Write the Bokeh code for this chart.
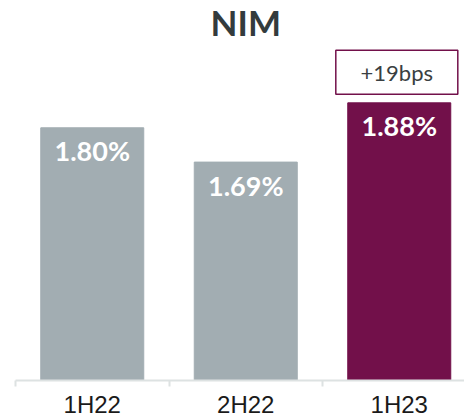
from bokeh.plotting import figure
from bokeh.models import Range1d, LinearAxis, FixedTicker, ColumnDataSource
from bokeh.core.properties import value
from bokeh.embed import file_html
from bokeh.resources import INLINE

# data
categories = ["1H22", "2H22", "1H23"]
nim_values = [1.80, 1.69, 1.88]
value_labels = ["1.80%", "1.69%", "1.88%"]
bar_colors = ["#a2adb2", "#a2adb2", "#72104a"]
change_label = "+19bps"
chart_title = "NIM"

Y_START = 0.99
Y_END = 2.208

xs = [i + 0.5 for i in range(len(categories))]
src = ColumnDataSource(dict(x=xs, top=nim_values, lab=value_labels, color=bar_colors))

p = figure(width=464, height=420, output_backend="svg", toolbar_location=None,
           x_range=Range1d(0, 2.925), y_range=Range1d(Y_START, Y_END),
           min_border_left=15, min_border_right=0, min_border_top=0, min_border_bottom=40)
p.xaxis.visible = False
p.yaxis.visible = False
p.xgrid.visible = False
p.ygrid.visible = False
p.outline_line_color = None
p.background_fill_color = "white"
p.border_fill_color = "white"

p.vbar(x="x", top="top", bottom=Y_START, width=0.671, color="color", source=src)

p.text(x="x", y="top", text="lab", source=src, text_align="center", text_baseline="middle",
       y_offset=23, text_color="white", text_font=value("Lato"), text_font_style="bold",
       text_font_size="27px")

last = len(categories) - 1
box_y = nim_values[last] + 0.098
p.rect(x=[xs[last] - 0.016], y=[box_y], width=122, height=44, width_units="screen",
       height_units="screen", fill_color="white", line_color="#72104a", line_width=1.5)
p.text(x=[xs[last] - 0.016], y=[box_y], text=[change_label], text_align="center",
       text_baseline="middle", text_color="#3a3f42", text_font=value("Lato"),
       text_font_size="22px")

p.text(x=[len(categories) / 2], y=[Y_END], text=[chart_title], text_align="center",
       text_baseline="alphabetic", y_offset=21, text_color="#333b3d",
       text_font=value("Lato"), text_font_style="bold", text_font_size="35px")

ticker = FixedTicker(ticks=xs, minor_ticks=list(range(len(categories) + 1)))
ax = LinearAxis(ticker=ticker)
ax.major_label_overrides = {x: c for x, c in zip(xs, categories)}
ax.axis_line_color = "#dde2e2"
ax.axis_line_width = 2
ax.major_tick_out = 0
ax.major_tick_in = 0
ax.minor_tick_out = 6
ax.minor_tick_in = 0
ax.minor_tick_line_color = "#dde2e2"
ax.minor_tick_line_width = 2
ax.major_label_standoff = 4
ax.major_label_text_font = "Liberation Sans"
ax.major_label_text_font_size = "24px"
ax.major_label_text_color = "#1a1a1a"
p.add_layout(ax, "below")

open("out.html", "w").write(file_html(p, INLINE))
